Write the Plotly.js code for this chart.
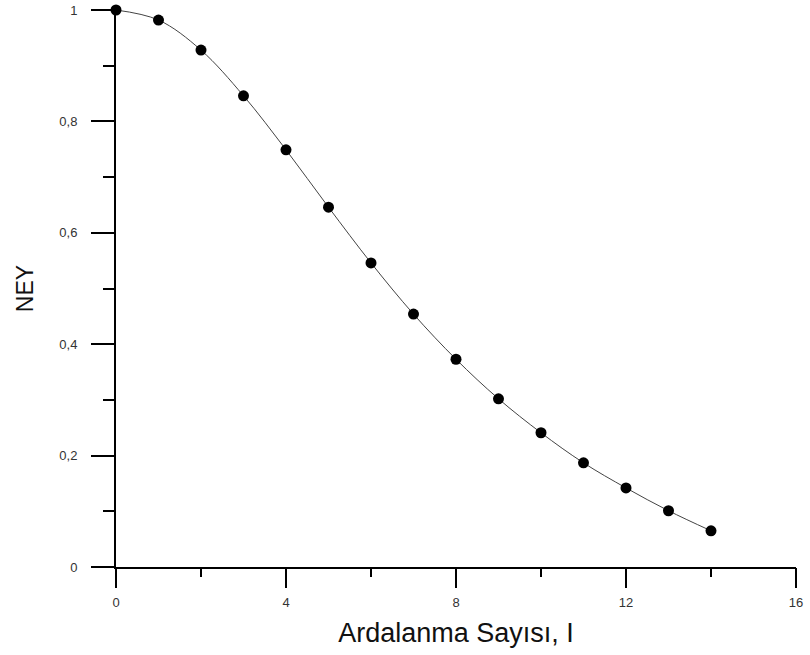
<!DOCTYPE html>
<html>
<head>
<meta charset="utf-8">
<script src="https://cdn.plot.ly/plotly-3.0.1.min.js"></script>
<style>html,body{margin:0;padding:0;background:#fff;}#chart{width:810px;height:655px;}</style>
</head>
<body>
<div id="chart"></div>
<script>
const iterations = [0, 1, 2, 3, 4, 5, 6, 7, 8, 9, 10, 11, 12, 13, 14];
const neyValues = [1.0, 0.982, 0.928, 0.846, 0.749, 0.646, 0.546, 0.454, 0.373, 0.302, 0.241, 0.187, 0.142, 0.101, 0.065];
const xTitle = "Ardalanma Sayısı, I";
const yTitle = "NEY";

const trace = {
  x: iterations,
  y: neyValues,
  xaxis: 'x', yaxis: 'y',
  mode: 'lines+markers',
  line: {shape: 'spline', color: '#444', width: 1},
  marker: {color: '#000', size: 11},
  cliponaxis: false,
  hoverinfo: 'x+y'
};
// empty trace so the minor-tick overlay axes are drawn
const minorHolder = {x: [], y: [], xaxis: 'x2', yaxis: 'y2', mode: 'markers', showlegend: false, hoverinfo: 'skip'};

const layout = {
  width: 810, height: 655,
  margin: {l: 116, r: 14, t: 10, b: 88},
  paper_bgcolor: '#fff', plot_bgcolor: '#fff',
  separators: ', ',
  font: {family: 'Liberation Sans, Arial, sans-serif', color: '#222'},
  showlegend: false,
  xaxis: {
    range: [0, 16], dtick: 4, tick0: 0,
    showgrid: false, zeroline: false,
    showline: true, linecolor: '#000', linewidth: 2,
    ticks: 'outside', ticklen: 19, tickwidth: 2, tickcolor: '#000',
    ticklabelstandoff: 3,
    tickfont: {size: 13, color: '#333'},
    title: {text: xTitle, font: {size: 27, color: '#111'}, standoff: 15}
  },
  xaxis2: {
    overlaying: 'x', anchor: 'y', side: 'bottom',
    range: [0, 16], dtick: 2, tick0: 0,
    showgrid: false, zeroline: false, showline: false, showticklabels: false,
    ticks: 'outside', ticklen: 9, tickwidth: 2, tickcolor: '#000'
  },
  yaxis: {
    range: [0, 1], dtick: 0.2, tick0: 0,
    showgrid: false, zeroline: false,
    showline: true, linecolor: '#000', linewidth: 2,
    ticks: 'outside', ticklen: 23, tickwidth: 2, tickcolor: '#000',
    ticklabelstandoff: 11,
    tickfont: {size: 13, color: '#333'},
    title: {text: yTitle, font: {size: 23, color: '#111'}, standoff: 19}
  },
  yaxis2: {
    overlaying: 'y', anchor: 'x', side: 'left',
    range: [0, 1], dtick: 0.1, tick0: 0,
    showgrid: false, zeroline: false, showline: false, showticklabels: false,
    ticks: 'outside', ticklen: 12, tickwidth: 2, tickcolor: '#000'
  }
};

Plotly.newPlot('chart', [minorHolder, trace], layout, {displayModeBar: false, staticPlot: true});
</script>
</body>
</html>
